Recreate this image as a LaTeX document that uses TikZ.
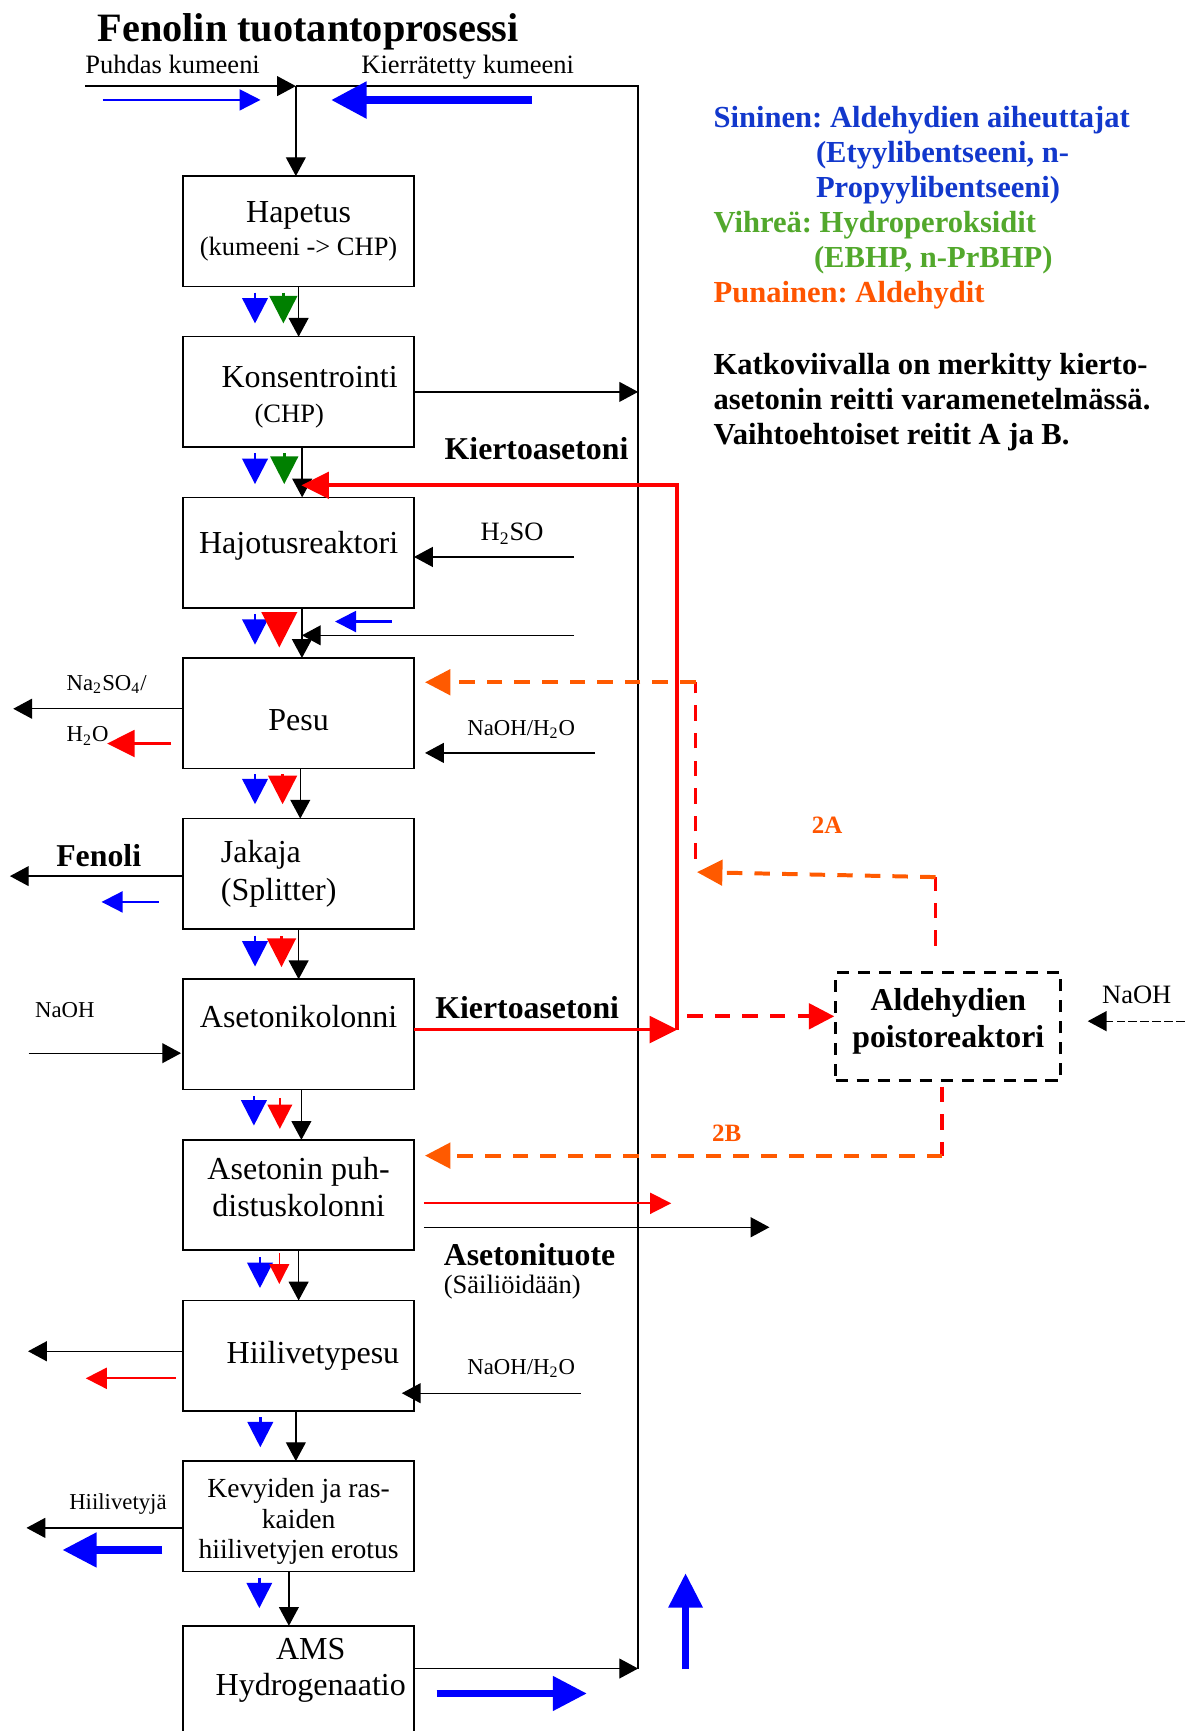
\documentclass[tikz,border=0pt]{standalone}
\usepackage{fontspec}
\setmainfont{Liberation Serif}
\usetikzlibrary{arrows.meta,positioning,calc}
\definecolor{flowBlue}{HTML}{0000FF}
\definecolor{flowGreen}{HTML}{008000}
\definecolor{flowRed}{HTML}{FF0000}
\definecolor{altOrange}{HTML}{FF5A00}
\definecolor{keyBlue}{HTML}{1238CC}
\definecolor{keyGreen}{HTML}{52A82C}
\definecolor{keyOrange}{HTML}{FF5500}
\frenchspacing

\begin{document}
\begin{tikzpicture}[
    x=0.5pt, y=-0.5pt,
    node distance=22.75pt,
    stage/.style={
      rectangle, draw, line width=0.7pt, minimum width=104.5pt, minimum height=50pt,
      inner sep=0pt, outer sep=0pt, align=center, font=\fontsize{14.5}{16.5}\selectfont
    },
    reactor/.style={
      rectangle, draw, line width=1.3pt, dash pattern=on 5.5pt off 4pt,
      minimum width=102pt, minimum height=49pt, inner sep=0pt, align=center,
      font=\fontsize{14.4}{16.8}\selectfont\bfseries
    },
    heading/.style={inner sep=0pt, anchor=base west, font=\fontsize{18.25}{21}\selectfont\bfseries},
    note/.style={inner sep=0pt, anchor=base west, font=\fontsize{10.3}{12}\selectfont},
    tag/.style={inner sep=0pt, anchor=base west, font=\fontsize{12}{14}\selectfont},
    strong/.style={inner sep=0pt, anchor=base west, font=\fontsize{14.4}{16.5}\selectfont\bfseries},
    routetag/.style={inner sep=0pt, anchor=base west, text=keyOrange, font=\fontsize{11.3}{13}\selectfont\bfseries},
    keytext/.style={inner sep=0pt, anchor=north west, align=left, font=\fontsize{13.85}{15.85}\selectfont\bfseries},
    flow/.style={-{Triangle[length=8.5pt, width=9pt]}, line width=0.6pt},
    tracer/.style={-{Triangle[length=#1, width=#1]}, line width=1.2pt},
    tracer/.default=11.5pt,
    slim/.style={-{Triangle[length=9.5pt, width=9.5pt]}, line width=0.9pt},
    fat/.style={-{Triangle[length=15.5pt, width=15pt]}, line width=3.4pt, flowBlue},
    recycle/.style={-{Triangle[length=12.5pt, width=12pt]}, line width=1.7pt, flowRed},
    altroute/.style={line width=1.8pt, dash pattern=on 7pt off 5.5pt},
    altarrow/.style={altroute, -{Triangle[length=11.5pt, width=11.5pt]}}
  ]
  \useasboundingbox (0,0) rectangle (1073,1568);

  \node[heading] (title) at (88,38) {Fenolin tuotantoprosessi};
  \node[tag] (pure) at (77,67) {Puhdas kumeeni};
  \node[tag] (recy) at (327,67) {Kierrätetty kumeeni};

  \node[stage] (hap) at (270.5,209.5) {Hapetus\\[-1.5pt]{\fontsize{12}{14}\selectfont(kumeeni -> CHP)}};
  \node[stage, below=of hap] (kons) {\rule{0pt}{14.6pt}\hspace*{10pt}Konsentrointi\\[-0.5pt]\hspace*{-8.5pt}{\fontsize{12}{14}\selectfont(CHP)}};
  \node[stage, below=of kons] (haj) {Hajotusreaktori\\[-7.6pt]\mbox{}};
  \node[stage, below=of haj] (pesu) {\rule{0pt}{15.6pt}Pesu};
  \node[stage, below=of pesu, align=left] (jak) {Jakaja\\[1pt](Splitter)\rule{18pt}{0pt}};
  \node[stage, below=of jak] (aset) {Asetonikolonni\\\mbox{}};
  \node[stage, below=of aset] (puhd) {Asetonin puh-\\distuskolonni\\[-9.1pt]\mbox{}};
  \node[stage, below=of puhd] (hiili) {\hspace*{13pt}Hiilivetypesu};
  \node[stage, below=of hiili, font=\fontsize{12.5}{13.75}\selectfont] (kev) {\rule{0pt}{13.5pt}Kevyiden ja ras-\\kaiden\\hiilivetyjen erotus};
  \node[stage, below=24.6pt of kev] (ams) {\hspace*{11pt}AMS\\\hspace*{11pt}Hydrogenaatio\\[-3.7pt]\mbox{}};

  \node[reactor] (ald) at (859,930) {Aldehydien\\poistoreaktori\\[-8.8pt]\mbox{}};

  \node[keytext, text=keyBlue] (keyblue) at (646,95.9) {Sininen: Aldehydien aiheuttajat\\\hspace*{46.4pt}(Etyylibentseeni, n-\\\hspace*{46.4pt}Propyylibentseeni)};
  \node[keytext, text=keyGreen] (keygreen) at (646,190.9) {Vihreä: Hydroperoksidit\\\hspace*{45.5pt}(EBHP, n-PrBHP)};
  \node[keytext, text=keyOrange] (keyorange) at (646,254.3) {Punainen: Aldehydit};
  \node[keytext] (keydash) at (646,319.2) {Katkoviivalla on merkitty kierto-\\asetonin reitti varamenetelmässä.\\Vaihtoehtoiset reitit A ja B.};

  \coordinate (feed) at (77,78);
  \coordinate (mix) at (268,78);
  \coordinate (ret) at (578,78);
  \coordinate (loopbot) at (578,1511.4);

  \draw[flow] (feed) -- (mix);
  \draw[line width=0.6pt] (loopbot) -- (ret) -- (mix);
  \draw[flow] (mix) -- ([xshift=-1.25pt]hap.north);
  \draw[slim, flowBlue] ($(feed)+(16,12.5)$) -- ($(mix)+(-32,12.5)$);
  \draw[fat, -{Triangle[length=16pt, width=16pt]}, line width=3.3pt] ($(ret)+(-96,12.6)$) -- ($(mix)+(32,12.6)$);

  \draw[flow] (hap.south) -- (kons.north);
  \draw[flow] ([xshift=1.6pt]kons.south) -- ([xshift=1.6pt]haj.north);
  \draw[flow] ([xshift=1.5pt]haj.south) -- ([xshift=1.5pt]pesu.north);
  \draw[flow] ([xshift=0.75pt]pesu.south) -- ([xshift=0.75pt]jak.north);
  \draw[flow] (jak.south) -- (aset.north);
  \draw[flow] ([xshift=1.25pt]aset.south) -- ([xshift=1.25pt]puhd.north);
  \draw[flow] (puhd.south) -- (hiili.north);
  \draw[flow] ([xshift=-1.25pt]hiili.south) -- ([xshift=-1.25pt]kev.north);
  \draw[flow] ([xshift=-4.4pt]kev.south) -- ([xshift=-4.4pt]ams.north);

  \draw[tracer, flowBlue] ($(hap.south)+(-39.5,5.5)$) -- ++(0,28);
  \draw[tracer=12.5pt, flowGreen] ($(hap.south)+(-13.8,5.5)$) -- ++(0,28);
  \draw[tracer, flowBlue] ($(kons.south)+(-39.5,5.5)$) -- ++(0,28);
  \draw[tracer=12.5pt, flowGreen] ($(kons.south)+(-13,5.5)$) -- ++(0,28);
  \draw[tracer, flowBlue] ($(haj.south)+(-39.5,5.5)$) -- ++(0,28);
  \draw[tracer=16pt, flowRed] ($(haj.south)+(-17.5,3.5)$) -- ++(0,32.5);
  \draw[tracer, flowBlue] ($(pesu.south)+(-39.5,5.5)$) -- ++(0,27);
  \draw[tracer=13pt, flowRed] ($(pesu.south)+(-14.5,5.5)$) -- ++(0,27);
  \draw[tracer, flowBlue] ($(jak.south)+(-39.5,6)$) -- ++(0,28);
  \draw[tracer=13pt, flowRed] ($(jak.south)+(-15.5,6.5)$) -- ++(0,28);
  \draw[tracer, flowBlue] ($(aset.south)+(-40.5,6)$) -- ++(0,26.6);
  \draw[tracer=11pt, flowRed] ($(aset.south)+(-17,8)$) -- ++(0,27.6);
  \draw[tracer, flowBlue] ($(puhd.south)+(-35,6.5)$) -- ++(0,27.7);
  \draw[tracer=9pt, flowRed, line width=0.6pt] ($(puhd.south)+(-17.5,2.5)$) -- ++(0,28);
  \draw[tracer, flowBlue] ($(hiili.south)+(-34.7,6)$) -- ++(0,27);
  \draw[tracer, flowBlue] ($(kev.south)+(-35.6,5.5)$) -- ++(0,27.7);

  \draw[flow] (kons.east) -- (kons.east -| loopbot);
  \node[strong] (recyc1) at (402.4,416) {Kiertoasetoni};

  \node[tag] (h2so) at (435,489.5) {H\textsubscript{2}SO};
  \coordinate (acid) at (520,504.5);
  \draw[flow] (acid) -- (haj.east |- acid);
  \coordinate (acid2) at (520,575.5);
  \draw[flow] (acid2) -- ([xshift=1.5pt]haj.south |- acid2);
  \draw[slim, flowBlue, line width=1pt] ($(acid2)+(-165,-12.5)$) -- ++(-51.5,0);

  \node[note] (na2so4) at (60,625.5) {Na\textsubscript{2}SO\textsubscript{4}/};
  \coordinate (saltout) at (12,642);
  \draw[flow] (pesu.west |- saltout) -- (saltout);
  \node[note] (water) at (60,672) {H\textsubscript{2}O};
  \draw[recycle] ($(pesu.west)+(-11,27.5)$) -- ++(-58,0);
  \node[note] (wash1) at (423,666) {NaOH/H\textsubscript{2}O};
  \coordinate (wash1in) at (539,682);
  \draw[flow] (wash1in) -- ([xshift=5pt]pesu.east |- wash1in);

  \node[strong] (phenol) at (50.6,785) {Fenoli};
  \coordinate (phenolout) at (9,793.6);
  \draw[flow] (jak.west |- phenolout) -- (phenolout);
  \draw[slim, flowBlue] ($(jak.west)+(-22.4,25.5)$) -- ++(-51.6,0);

  \node[note] (naoh1) at (31.5,922) {NaOH};
  \coordinate (naoh1in) at (26,954);
  \draw[flow] (naoh1in) -- ([xshift=-1pt]aset.west |- naoh1in);
  \node[strong] (recyc2) at (394,923) {Kiertoasetoni};
  \coordinate (rbot) at (613.5,932.6);
  \coordinate (rtop) at (613.5,439.6);
  \draw[recycle] (aset.east |- rbot) -- (rbot);
  \draw[recycle] (rbot) -- (rtop) -- ([xshift=1.25pt]kons.south |- rtop);

  \coordinate (aldin) at (622.5,920.6);
  \draw[altarrow, flowRed] (aldin) -- (ald.west |- aldin);
  \node[tag] (naoh2) at (998,909) {NaOH};
  \coordinate (naoh2in) at (1073,925);
  \draw[flow, dash pattern=on 3.8pt off 1.6pt] (naoh2in) -- ([xshift=11.5pt]ald.east |- naoh2in);

  \coordinate (r2a) at (847.4,794.5);
  \coordinate (r2atip) at (631.4,790);
  \coordinate (pesuret) at (630,618);
  \draw[altroute, flowRed] ($([xshift=-5.8pt]ald.north)+(0,-23)$) -- (r2a);
  \draw[altarrow, altOrange] (r2a) -- (r2atip);
  \draw[altroute, flowRed] ($(pesuret)+(0,160)$) -- (pesuret);
  \draw[altarrow, altOrange] (pesuret) -- ([xshift=5pt]pesu.east |- pesuret);
  \node[routetag] (lbl2a) at (735,755) {2A};

  \coordinate (r2b) at (853.4,1046.8);
  \draw[altroute, flowRed] ($([xshift=-2.8pt]ald.south)+(0,4)$) -- (r2b);
  \draw[altarrow, altOrange] (r2b) -- ([xshift=5pt]puhd.east |- r2b);
  \node[routetag] (lbl2b) at (644.6,1033.8) {2B};

  \coordinate (aldout) at (608,1090);
  \draw[slim, flowRed, line width=0.75pt] ([xshift=4.5pt]puhd.east |- aldout) -- (aldout);
  \coordinate (prodout) at (697,1111.7);
  \draw[flow] ([xshift=4.5pt]puhd.east |- prodout) -- (prodout);
  \node[strong] (prod) at (401.7,1146) {Asetonituote};
  \node[tag] (store) at (401.7,1172) {(Säiliöidään)};

  \coordinate (hcout) at (25.4,1224);
  \draw[flow] (hiili.west |- hcout) -- (hcout);
  \draw[slim, flowRed] ($(hiili.west)+(-6.5,20.5)$) -- ++(-81.8,0);
  \node[note] (wash2) at (423,1245) {NaOH/H\textsubscript{2}O};
  \coordinate (wash2in) at (526,1262);
  \draw[flow] (wash2in) -- ([xshift=-5.5pt]hiili.east |- wash2in);

  \node[note] (hcs) at (62.4,1367.6) {Hiilivetyjä};
  \coordinate (hcsout) at (24,1384);
  \draw[flow] (kev.west |- hcsout) -- (hcsout);
  \draw[fat] ($(kev.west)+(-19,30.5)$) -- ++(-90.5,0);

  \draw[flow] (ams.east |- loopbot) -- (loopbot);
  \draw[fat] ($(ams.east)+(20.4,11.3)$) -- ++(136.3,0);
  \draw[fat, line width=2.8pt] ($(loopbot)+(43,0.5)$) -- ++(0,-86.7);
\end{tikzpicture}
\end{document}
